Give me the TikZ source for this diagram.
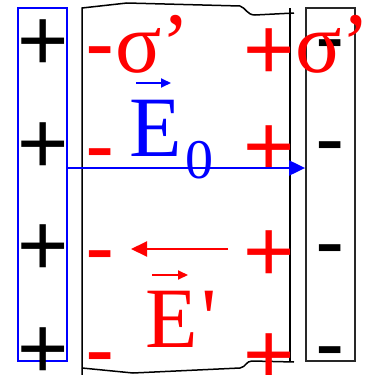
\documentclass[tikz,border=0pt]{standalone}
\usepackage{fontspec}
\setmainfont{Liberation Serif}
\newfontfamily\arl{Liberation Sans}
\usetikzlibrary{arrows.meta}
\begin{document}
\begin{tikzpicture}[x=1pt,y=-1pt,
  sgn/.style={inner sep=0pt, anchor=base, font=\arl\fontsize{88}{88}\selectfont},
  big/.style={inner sep=0pt, anchor=base west, font=\fontsize{86}{86}\selectfont},
  plate/.style={draw, line width=1.8pt, inner sep=0pt, minimum width=49pt, minimum height=353pt},
  wall/.style={line width=1.5pt, black},
  vecarrow/.style={line width=2pt, -{Triangle[length=10pt,width=9pt]}},
  fieldarrow/.style={line width=2pt, -{Triangle[length=16pt,width=15pt]}}]
\useasboundingbox (0,0) rectangle (374,375);
% plates
\node[plate, draw=blue] (lp) at (42.5,184.5) {};
\node[plate, draw={rgb,255:red,40;green,40;blue,40}] (rp) at (330.5,184.5) {};
% dielectric slab
\draw[wall] (82,375) -- (82,8) -- (127,3) -- (240,6) .. controls (246,8) and (247,15) .. (255,15) -- (294,13);
\draw[wall] (290,8) -- (290,362);
\draw[wall] (82,368) -- (133,373) -- (240,368) .. controls (246,367) and (246,361) .. (252,361) -- (294,362);
% charges on left plate
\foreach \y/\n in {70/1,173/2,275/3,378/4} \node[sgn] (lq\n) at (43,\y) {+};
% charges on right plate
\foreach \y/\n in {66/1,168/2,271/3,373/4} \node[sgn] (rq\n) at (330.5,\y) {-};
% bound charges
\foreach \y/\n in {73/1,175/2,277/3,379/4} \node[sgn, red] (bl\n) at (100.5,\y) {-};
\foreach \y/\n in {79/1,176/2,281/3,384/4} \node[sgn, red] (br\n) at (269.5,\y) {+};
% sigma labels
\node[big, red] (sl) at (115,72) {σ’};
\node[big, red] (sr) at (295,72) {σ’};
% E0
\node[big, blue] (e0) at (129,156) {E\kern4pt\raisebox{-22pt}{\fontsize{56}{56}\selectfont 0}};
\coordinate (e0a) at (136,83);
\coordinate (e0b) at (171,83);
\draw[vecarrow, blue] (e0a) -- (e0b);
\draw[fieldarrow, blue, line width=2pt] (lp.east |- 0,168) -- (rp.west |- 0,168);
% E'
\node[big, red] (ep) at (145,347) {E\kern4pt\textquotesingle};
\coordinate (epa) at (152,275);
\coordinate (epb) at (188,275);
\draw[vecarrow, red] (epa) -- (epb);
\coordinate (fa) at (228,249);
\coordinate (fb) at (131,249);
\draw[fieldarrow, red] (fa) -- (fb);
\end{tikzpicture}
\end{document}
